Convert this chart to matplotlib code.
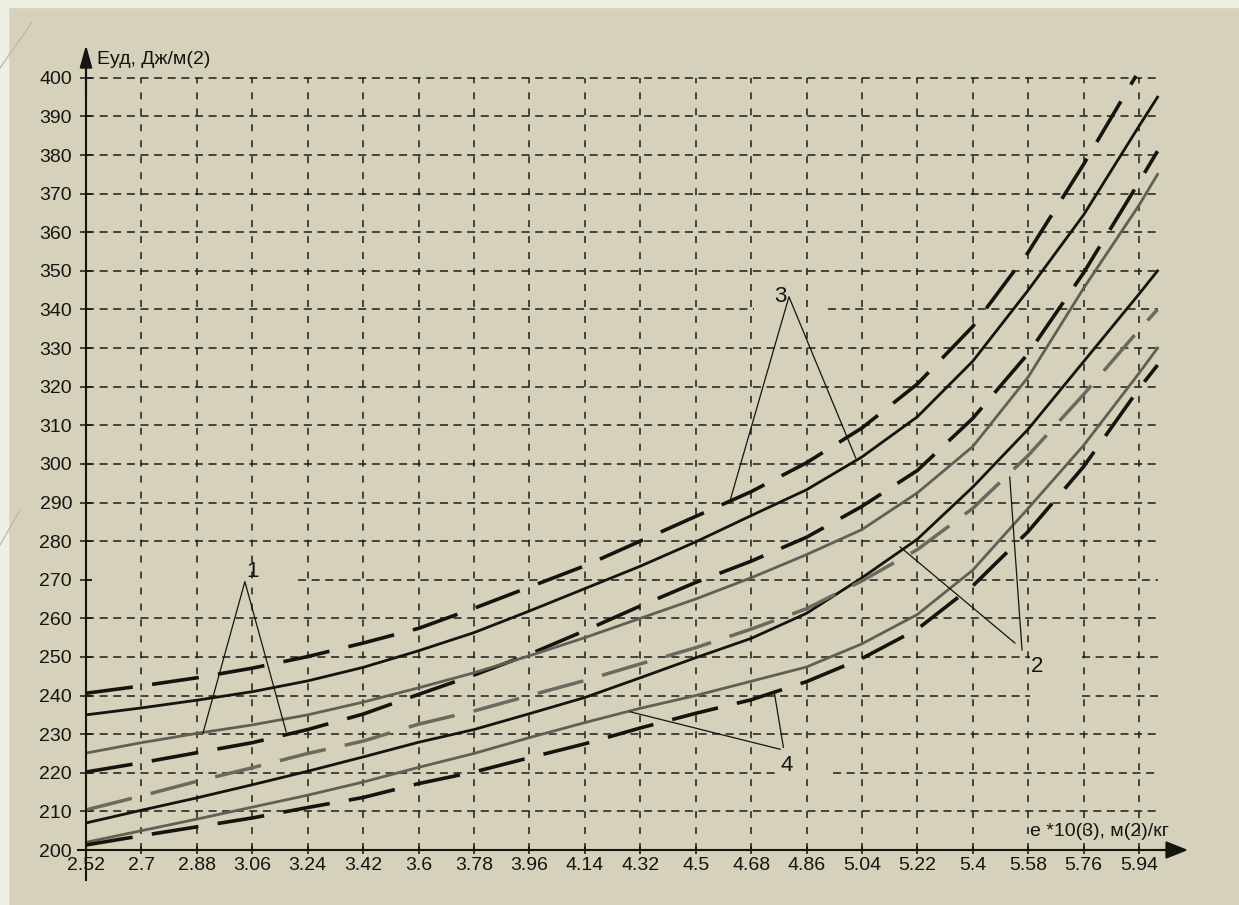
import matplotlib
matplotlib.use("Agg")
import matplotlib.pyplot as plt
from matplotlib.lines import Line2D
from matplotlib.patches import Rectangle

plt.rcParams['font.family'] = ['Liberation Sans', 'DejaVu Sans']
plt.rcParams['lines.scale_dashes'] = False

# ---- data ----
x_pts = [2.52, 2.7, 2.88, 3.06, 3.24, 3.42, 3.6, 3.78, 3.96, 4.14, 4.32,
         4.5, 4.68, 4.86, 5.04, 5.22, 5.4, 5.58, 5.76, 5.94, 6.0]
x_pts_a = x_pts[:-2] + [5.93]

# group 3
curve_a = [240.6, 242.5, 244.6, 247.1, 250.1, 253.6, 257.4, 262.6, 268.1, 273.6,
           280.0, 286.4, 292.8, 300.3, 309.3, 320.7, 335.6, 354.8, 377.6, 400.5]
curve_b = [235.0, 236.8, 238.8, 241.0, 243.8, 247.3, 251.6, 256.3, 261.9, 267.7,
           273.5, 279.8, 286.6, 293.3, 301.8, 312.2, 326.6, 345.0, 364.5, 387.5, 395.0]
# group 1
curve_c = [220.2, 222.6, 225.2, 227.8, 231.2, 235.2, 240.3, 245.3, 250.7, 256.8,
           263.2, 269.3, 274.8, 281.0, 289.0, 298.3, 311.8, 328.6, 349.5, 373.0, 381.0]
curve_d = [225.1, 227.8, 230.2, 232.4, 235.0, 238.3, 242.0, 245.9, 250.3, 255.0,
           260.0, 265.0, 270.5, 276.5, 283.0, 292.5, 304.5, 322.5, 345.5, 367.0, 375.0]
# group 2
curve_f = [207.0, 210.3, 213.5, 216.9, 220.4, 224.1, 227.9, 231.2, 235.3, 239.5,
           244.6, 249.8, 254.8, 261.3, 270.5, 280.5, 294.0, 309.0, 326.5, 344.0, 350.0]
curve_g = [210.4, 214.0, 217.8, 221.3, 225.0, 228.2, 232.6, 236.0, 240.0, 243.9,
           248.2, 252.4, 257.2, 262.5, 269.7, 277.8, 288.5, 302.2, 318.0, 334.7, 340.0]
# group 4
curve_h = [202.0, 205.0, 208.0, 211.1, 214.2, 217.6, 221.4, 225.0, 229.1, 233.0,
           236.7, 240.0, 243.7, 247.4, 253.4, 261.0, 272.5, 288.5, 304.8, 323.5, 330.0]
curve_i = [201.3, 203.7, 206.0, 208.3, 211.0, 213.6, 217.2, 220.2, 223.9, 227.5,
           231.6, 235.4, 238.9, 243.6, 249.6, 257.2, 268.4, 282.5, 299.3, 319.5, 325.6]

x_ticks = [2.52, 2.7, 2.88, 3.06, 3.24, 3.42, 3.6, 3.78, 3.96, 4.14, 4.32,
           4.5, 4.68, 4.86, 5.04, 5.22, 5.4, 5.58, 5.76, 5.94]
x_labels = ['2.52', '2.7', '2.88', '3.06', '3.24', '3.42', '3.6', '3.78', '3.96', '4.14',
            '4.32', '4.5', '4.68', '4.86', '5.04', '5.22', '5.4', '5.58', '5.76', '5.94']
y_ticks = list(range(200, 401, 10))

bg = '#d6d1bb'
black = '#151510'
gray = '#606055'
grid_c = '#1e1e1a'

fig = plt.figure(figsize=(12.39, 9.05), dpi=100)
fig.patch.set_facecolor(bg)
# light slide border on the left and top
fig.add_artist(Rectangle((0, 0), 8 / 1239, 1, transform=fig.transFigure,
                         color='#eef0e4', zorder=0))
fig.add_artist(Rectangle((0, 1 - 7 / 905), 1, 7 / 905, transform=fig.transFigure,
                         color='#eef0e4', zorder=0))
fig.add_artist(Line2D([0, 32 / 1239], [1 - 68 / 905, 1 - 22 / 905],
                      color='#b4b4a8', lw=0.8))
fig.add_artist(Line2D([0, 20 / 1239], [1 - 545 / 905, 1 - 510 / 905],
                      color='#b4b4a8', lw=0.8))

ax = fig.add_axes([86 / 1239, 55 / 905, 1102 / 1239, 805 / 905])
ax.set_facecolor('none')
ax.set_xlim(2.52, 6.099)
ax.set_ylim(200, 408.5)
for s in ax.spines.values():
    s.set_visible(False)

# grid (dashed), some rows are broken behind the number labels
for xv in x_ticks[1:]:
    ax.plot([xv, xv], [200, 400], color=grid_c, lw=1.1, ls=(0, (5, 6.5)), zorder=1)
row_gaps = {270: [(2.54, 3.21)], 340: [(4.69, 4.93)], 250: [(5.585, 5.755)],
            240: [(5.585, 5.755)], 220: [(4.765, 4.945)]}
for yv in y_ticks[1:]:
    start = 2.52
    for g0, g1 in row_gaps.get(yv, []):
        ax.plot([start, g0], [yv, yv], color=grid_c, lw=1.1, ls=(0, (5.8, 4)), zorder=1)
        start = g1
    ax.plot([start, 6.0], [yv, yv], color=grid_c, lw=1.1, ls=(0, (5.8, 4)), zorder=1)

# curves
dash = (0, (34, 14))
ax.plot(x_pts_a, curve_a, color=black, lw=2.6, ls=dash, zorder=3)
ax.plot(x_pts, curve_b, color=black, lw=2.0, zorder=3)
ax.plot(x_pts, curve_c, color=black, lw=2.6, ls=dash, zorder=3)
ax.plot(x_pts, curve_d, color=gray, lw=2.0, zorder=3)
ax.plot(x_pts, curve_f, color=black, lw=2.0, zorder=3)
ax.plot(x_pts, curve_g, color='#6a6a5e', lw=2.5, ls=dash, zorder=3)
ax.plot(x_pts, curve_h, color=gray, lw=2.0, zorder=3)
ax.plot(x_pts, curve_i, color=black, lw=2.6, ls=dash, zorder=3)

# number labels with leader lines
ax.plot([2.90, 3.036, 3.17], [230.3, 269.5, 230.6], color=black, lw=0.9, zorder=4)
ax.text(3.04, 269.5, '1', fontsize=16, ha='left', va='bottom', color=black)
ax.plot([4.61, 4.803, 5.02], [290.0, 343.3, 301.5], color=black, lw=0.9, zorder=4)
ax.text(4.795, 343.3, '3', fontsize=16, ha='right', va='center', color=black)
ax.plot([5.164, 5.537], [278.5, 253.6], color=black, lw=0.9, zorder=4)
ax.plot([5.52, 5.56], [296.6, 251.8], color=black, lw=0.9, zorder=4)
ax.text(5.609, 247.5, '2', fontsize=16, ha='center', va='center', color=black)
ax.plot([4.287, 4.774], [235.8, 226.1], color=black, lw=0.9, zorder=4)
ax.plot([4.755, 4.785], [241.0, 226.6], color=black, lw=0.9, zorder=4)
ax.text(4.797, 221.8, '4', fontsize=16, ha='center', va='center', color=black)

# axes with arrows
ax.plot([2.52, 2.52], [192.2, 405], color=black, lw=1.5, clip_on=False, zorder=5)
ax.plot([2.494, 6.05], [200, 200], color=black, lw=1.5, clip_on=False, zorder=5)
ax.annotate('', xy=(2.52, 408.5), xytext=(2.52, 395), annotation_clip=False,
            arrowprops=dict(arrowstyle='-|>,head_length=0.9,head_width=0.25',
                            mutation_scale=15, color=black, lw=1.5,
                            shrinkA=0, shrinkB=0))
ax.annotate('', xy=(6.099, 200), xytext=(6.0, 200), annotation_clip=False,
            arrowprops=dict(arrowstyle='-|>,head_length=0.9,head_width=0.36',
                            mutation_scale=15, color=black, lw=1.5,
                            shrinkA=0, shrinkB=0))

ax.set_xticks(x_ticks)
ax.set_xticklabels(x_labels)
ax.set_yticks(y_ticks)
ax.set_yticklabels([str(v) for v in y_ticks])
ax.tick_params(axis='y', direction='inout', length=8, width=1.1, pad=6,
               labelsize=14, colors=black)
ax.tick_params(axis='x', direction='inout', length=6, width=1.1, pad=2,
               labelsize=14, colors=black)

ax.text(2.556, 404.7, 'Еуд, Дж/м(2)', fontsize=14, ha='left', va='center', color=black)
ax.text(5.586, 204.7, 'е *10(3), м(2)/кг', fontsize=14, ha='left', va='center', color=black)

fig.savefig('out.png', dpi=100, facecolor=fig.get_facecolor())
